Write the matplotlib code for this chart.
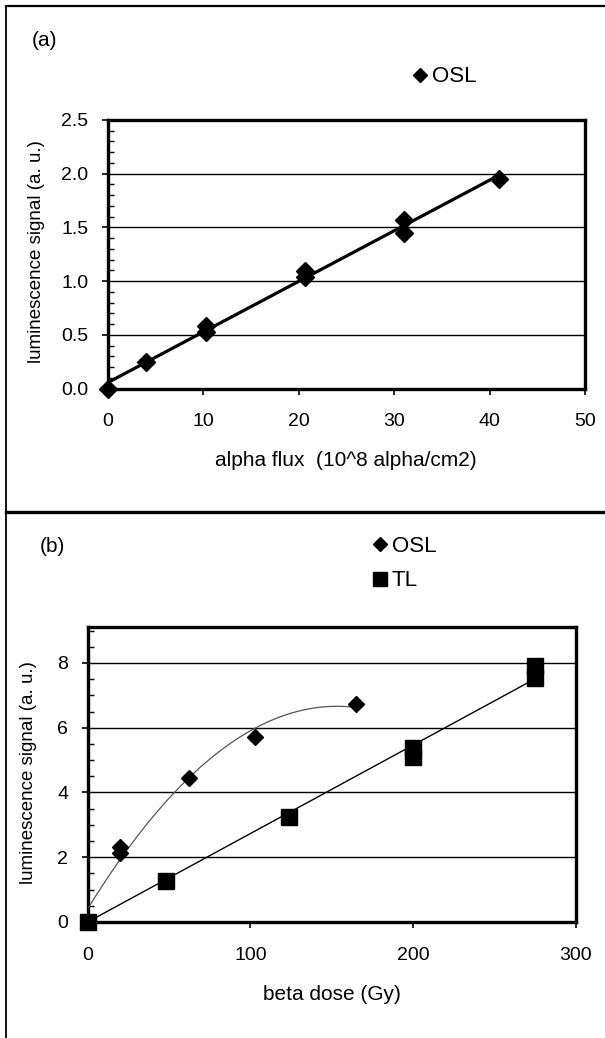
import numpy as np
import matplotlib
matplotlib.use("Agg")
import matplotlib.pyplot as plt
from matplotlib.lines import Line2D
from matplotlib.ticker import MultipleLocator, FormatStrFormatter

plt.rcParams['font.family'] = ['Liberation Sans', 'DejaVu Sans']

# ---- data: panel (a) ----
alpha_flux = [0, 4, 10.3, 10.3, 20.6, 20.6, 31.0, 31.0, 41.0]
osl_alpha = [0.0, 0.245, 0.58, 0.53, 1.09, 1.04, 1.57, 1.45, 1.95]

# ---- data: panel (b) ----
osl_beta_dose = [0, 20, 20, 62, 103, 165]
osl_beta = [0.0, 2.32, 2.12, 4.45, 5.72, 6.72]
tl_beta_dose = [0, 48, 124, 200, 200, 275, 275]
tl_beta = [0.0, 1.28, 3.25, 5.38, 5.08, 7.90, 7.52]

a_xticks = [0, 10, 20, 30, 40, 50]
a_yticks = [0.0, 0.5, 1.0, 1.5, 2.0, 2.5]
b_xticks = [0, 100, 200, 300]
b_yticks = [0, 2, 4, 6, 8]

W, H = 605, 1038
fig = plt.figure(figsize=(W / 100, H / 100), dpi=100)
fig.patch.set_facecolor('white')


def fx(px):
    return px / W


def fy(py):
    return 1 - py / H


def style_axes(ax):
    for s in ax.spines.values():
        s.set_linewidth(2.4)
        s.set_color('black')
    ax.tick_params(axis='both', which='major', direction='out', length=4,
                   width=1.2, labelsize=14, colors='black')
    ax.tick_params(axis='x', which='major', pad=14)
    ax.tick_params(axis='y', which='major', pad=10)
    ax.tick_params(axis='y', which='minor', direction='in', length=4, width=1)
    ax.yaxis.grid(True, which='major', color='black', linewidth=1.0)
    ax.set_axisbelow(True)


# ---------------- panel (a) ----------------
axa = fig.add_axes([fx(108), fy(388.5), fx(585) - fx(108), fy(120) - fy(388.5)])
style_axes(axa)
xa = np.array(alpha_flux)
ya = np.array(osl_alpha)
pa = np.polyfit(xa, ya, 1)
xfa = np.linspace(xa.min(), xa.max(), 50)
axa.plot(xfa, np.polyval(pa, xfa), color='black', lw=2.3, zorder=3)
axa.plot(xa, ya, linestyle='none', marker='D', ms=9, color='black', zorder=4,
         clip_on=False, label='OSL')
axa.set_xlim(0, 50)
axa.set_ylim(0, 2.5)
axa.set_xticks(a_xticks)
axa.set_yticks(a_yticks)
axa.yaxis.set_major_formatter(FormatStrFormatter('%.1f'))
axa.yaxis.set_minor_locator(MultipleLocator(0.1))
axa.legend(loc='center left', bbox_to_anchor=(fx(413), fy(77)),
           bbox_transform=fig.transFigure, frameon=False, fontsize=16,
           handlelength=0.6, handletextpad=0.25, borderpad=0, borderaxespad=0,
           markerscale=0.8)

fig.text(fx(346), fy(460), 'alpha flux  (10^8 alpha/cm2)', ha='center',
         va='center', fontsize=15)
fig.text(fx(37), fy(252), 'luminescence signal (a. u.)', ha='center',
         va='center', rotation=90, fontsize=13.5)
fig.text(fx(32), fy(40), '(a)', ha='left', va='center', fontsize=15)

# ---------------- panel (b) ----------------
axb = fig.add_axes([fx(87.7), fy(922), fx(575.7) - fx(87.7), fy(627.3) - fy(922)])
style_axes(axb)
xo = np.array(osl_beta_dose, dtype=float)
yo = np.array(osl_beta)
po = np.polyfit(xo, yo, 2)
xfo = np.linspace(0, xo.max(), 200)
axb.plot(xfo, np.polyval(po, xfo), color='#555555', lw=0.9, zorder=3)

xt = np.array(tl_beta_dose, dtype=float)
yt = np.array(tl_beta)
slope = np.sum(xt * yt) / np.sum(xt * xt)
xft = np.linspace(0, xt.max(), 50)
axb.plot(xft, slope * xft, color='black', lw=1.0, zorder=3)

axb.plot(xo, yo, linestyle='none', marker='D', ms=8, color='black', zorder=4,
         clip_on=False, label='OSL')
axb.plot(xt, yt, linestyle='none', marker='s', ms=11, color='black', zorder=4,
         clip_on=False, label='TL')
axb.set_xlim(0, 300)
axb.set_ylim(0, 9.1)
axb.set_xticks(b_xticks)
axb.set_yticks(b_yticks)
axb.yaxis.set_minor_locator(MultipleLocator(0.5))
axb.legend(loc='upper left', bbox_to_anchor=(fx(373), fy(536)),
           bbox_transform=fig.transFigure, frameon=False, fontsize=16,
           handlelength=0.6, handletextpad=0.25, borderpad=0, borderaxespad=0,
           labelspacing=0.6, markerscale=0.9)

fig.text(fx(332), fy(995), 'beta dose (Gy)', ha='center', va='center', fontsize=15)
fig.text(fx(29), fy(773), 'luminescence signal (a. u.)', ha='center',
         va='center', rotation=90, fontsize=13.5)
fig.text(fx(40), fy(547), '(b)', ha='left', va='center', fontsize=15)

# ---------------- page frame lines ----------------
fig.add_artist(Line2D([fx(6), fx(6)], [fy(6), 0], transform=fig.transFigure,
                      color='black', lw=1.3))
fig.add_artist(Line2D([fx(6), 1], [fy(6), fy(6)], transform=fig.transFigure,
                      color='black', lw=1.6))
fig.add_artist(Line2D([fx(6), 1], [fy(512), fy(512)], transform=fig.transFigure,
                      color='black', lw=2.4))

fig.savefig('out.png', dpi=100, facecolor='white')
